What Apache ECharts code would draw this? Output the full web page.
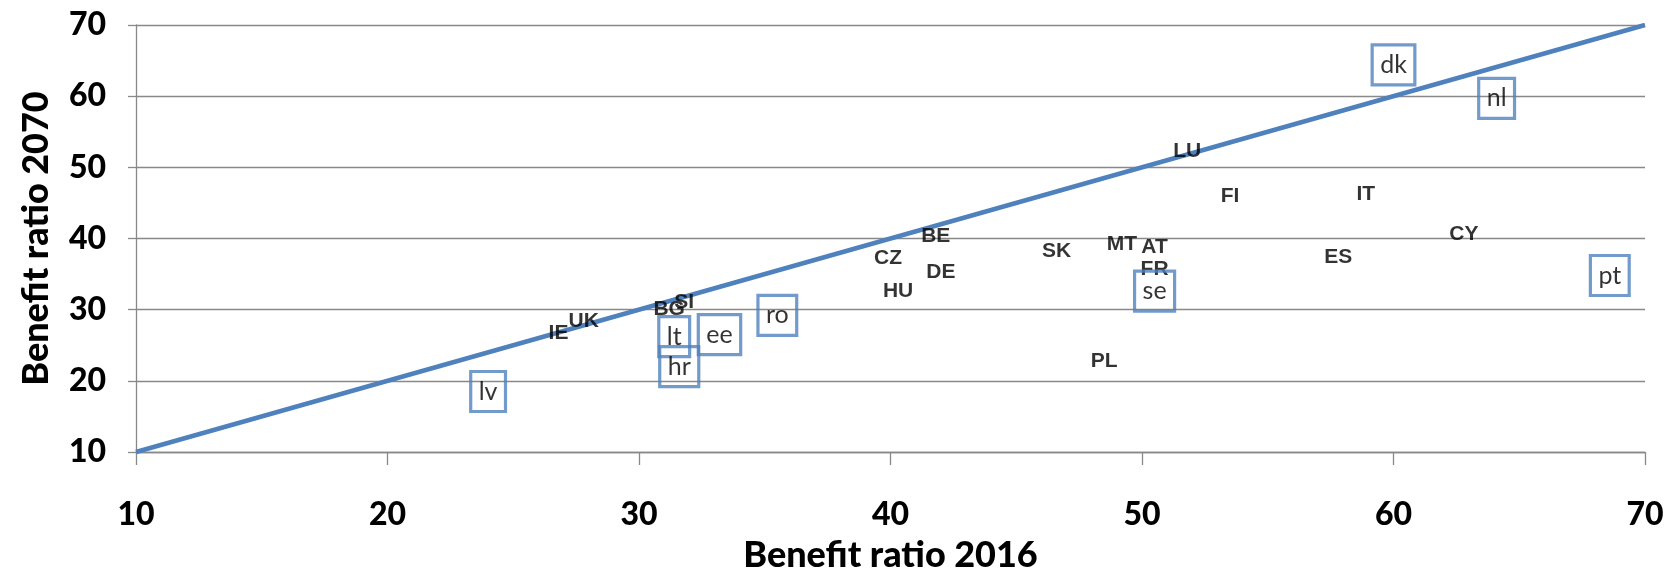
<!DOCTYPE html>
<html>
<head>
<meta charset="utf-8">
<script src="https://cdn.jsdelivr.net/npm/echarts@6/dist/echarts.min.js"></script>
<style>html,body{margin:0;padding:0;background:#fff;}#c{width:1667px;height:578px;}</style>
</head>
<body>
<div id="c"></div>
<script>
// Countries shown with bold upper-case labels
var boldCodes = ['LU','FI','IT','CY','ES','MT','AT','FR','SK','PL','BE','CZ','DE','HU','SI','BG','UK','IE'];
var boldX2016 = [51.8, 53.5, 58.9, 62.8, 57.8, 49.2, 50.5, 50.5, 46.6, 48.5, 41.8, 39.9, 42.0, 40.3, 31.8, 31.2, 27.8, 26.8];
var boldY2070 = [52.3, 46.0, 46.2, 40.6, 37.4, 39.2, 38.8, 35.7, 38.2, 22.8, 40.3, 37.2, 35.3, 32.6, 31.0, 30.0, 28.4, 26.7];
// Countries shown with boxed lower-case labels
var boxCodes = ['dk','nl','pt','se','ro','ee','lt','hr','lv'];
var boxX2016 = [60.0, 64.1, 68.6, 50.5, 35.5, 33.2, 31.4, 31.6, 24.0];
var boxY2070 = [64.4, 59.7, 34.8, 32.6, 29.2, 26.5, 26.2, 22.0, 18.5];
// 45-degree reference line
var diagX = [10, 70];
var diagY = [10, 70];
var axisTicks = [10, 20, 30, 40, 50, 60, 70];

function pts(codes, xs, ys) {
  return codes.map(function (c, i) { return { name: c, value: [xs[i], ys[i]] }; });
}

var chart = echarts.init(document.getElementById('c'));
var axisFont = 'Lato, "Open Sans", sans-serif';
chart.setOption({
  animation: false,
  backgroundColor: '#ffffff',
  grid: { left: 136, right: 22, top: 25, bottom: 121, containLabel: false },
  xAxis: {
    type: 'value', min: axisTicks[0], max: axisTicks[axisTicks.length - 1], interval: 10,
    name: 'Benefit ratio 2016', nameLocation: 'middle', nameGap: 85,
    nameTextStyle: { fontFamily: axisFont, fontWeight: 900, fontSize: 36, color: '#000' },
    axisLine: { show: true, lineStyle: { color: '#898989', width: 1.3 } },
    axisTick: { show: true, length: 13, lineStyle: { color: '#898989', width: 1.3 } },
    axisLabel: { margin: 47, fontFamily: axisFont, fontWeight: 900, fontSize: 32, color: '#000' },
    splitLine: { show: false }
  },
  yAxis: {
    type: 'value', min: axisTicks[0], max: axisTicks[axisTicks.length - 1], interval: 10,
    name: 'Benefit ratio 2070', nameLocation: 'middle', nameGap: 82,
    nameTextStyle: { fontFamily: axisFont, fontWeight: 900, fontSize: 36, color: '#000' },
    axisLine: { show: true, lineStyle: { color: '#898989', width: 1.3 } },
    axisTick: { show: true, length: 8, lineStyle: { color: '#898989', width: 1.3 } },
    axisLabel: { margin: 30, fontFamily: axisFont, fontWeight: 900, fontSize: 32, color: '#000' },
    splitLine: { show: true, lineStyle: { color: '#898989', width: 1.3 } }
  },
  series: [
    {
      type: 'line', data: diagX.map(function (x, i) { return [x, diagY[i]]; }),
      symbol: 'none', lineStyle: { color: '#4f81bd', width: 4.5 }, z: 2, silent: true
    },
    {
      type: 'scatter', data: pts(boldCodes, boldX2016, boldY2070), symbolSize: 1,
      itemStyle: { color: 'rgba(0,0,0,0)' }, z: 3,
      label: {
        show: true, position: 'inside', formatter: '{b}',
        fontFamily: '"Liberation Sans", Arial, sans-serif', fontWeight: 'bold', fontSize: 21, color: '#000'
      }
    },
    {
      type: 'scatter', data: pts(boxCodes, boxX2016, boxY2070), symbolSize: 1,
      itemStyle: { color: 'rgba(0,0,0,0)' }, z: 3,
      label: {
        show: true, position: 'inside', formatter: '{b}',
        fontFamily: 'Lato, "Open Sans", sans-serif', fontSize: 25, color: '#000',
        lineHeight: 26, padding: [7, 8, 7, 8],
        borderColor: '#4f81bd', borderWidth: 1.6, backgroundColor: 'transparent'
      }
    }
  ]
});
</script>
</body>
</html>
